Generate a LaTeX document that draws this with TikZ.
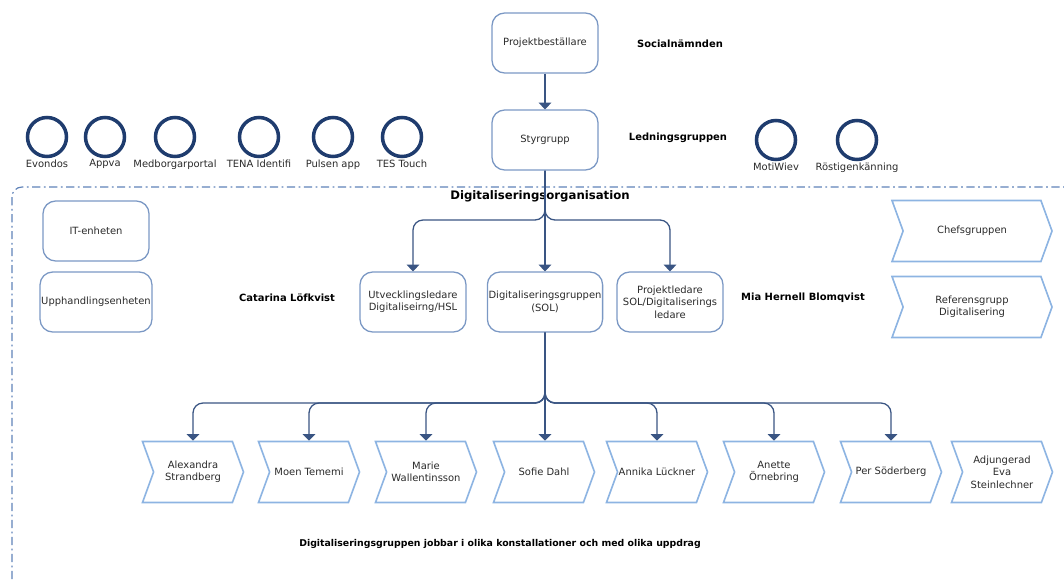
\documentclass[tikz,border=0pt]{standalone}
\usepackage{fontspec}
\setmainfont{DejaVu Sans}
\usepackage{tikz}
\usetikzlibrary{shapes.symbols, arrows.meta, positioning}
\definecolor{boxline}{HTML}{7B98C4}
\definecolor{chevline}{HTML}{8DB4E2}
\definecolor{appline}{HTML}{1F3C6E}
\definecolor{arrowline}{HTML}{3A5583}
\definecolor{frameline}{HTML}{5F82B8}
\definecolor{txt}{HTML}{2A2A2A}

\begin{document}
\begin{tikzpicture}[x=0.03cm, y=-0.03cm,
    box/.style={draw=boxline, line width=1.1pt, rectangle, rounded corners=0.38cm, minimum width=3.18cm, minimum height=1.8cm, align=center, text=txt, font=\fontsize{8.5}{10.5}\selectfont, inner sep=1pt},
    chevron/.style={draw=chevline, line width=1.4pt, signal, signal from=west, signal to=east, signal pointer angle=140, minimum width=3.03cm, minimum height=1.83cm, align=center, text=txt, font=\fontsize{8.5}{10.5}\selectfont, inner sep=1pt},
    app/.style={circle, draw=appline, line width=3pt, minimum size=1.17cm, inner sep=0pt},
    applabel/.style={font=\fontsize{8.5}{10}\selectfont, text=txt, inner sep=1pt},
    person/.style={font=\bfseries\fontsize{8.5}{10}\selectfont},
    arrow/.style={draw=arrowline, line width=1.1pt, -{Triangle[width=0.38cm,length=0.2cm]}, rounded corners=0.3cm},
    frame/.style={draw=frameline, line width=1pt, dash pattern=on 7pt off 3pt on 1.5pt off 3pt, rounded corners=0.3cm}
]
\useasboundingbox (0,0) rectangle (1064,579);

% top of the organisation
\node[box] (pbest) at (545,43) {Projektbeställare};
\node[box] (styr) at (545,140) {Styrgrupp};
\node[person] (socn) at (680,44) {Socialnämnden};
\node[person] (ledn) at (678,138) {Ledningsgruppen};

% systems
\foreach \x/\n/\t in {47/evondos/Evondos, 105/appva/Appva, 175/medb/Medborgarportal, 259/tena/TENA Identifi, 333/pulsen/Pulsen app, 402/tes/TES Touch}
    \node[app, label={[applabel]below:\t}] (\n) at (\x,137) {};
\foreach \x/\n/\t in {776/motiwiev/MotiWiev, 857/rost/Röstigenkänning}
    \node[app, label={[applabel]below:\t}] (\n) at (\x,140) {};

% frame
\coordinate (fbl) at (12,579);
\coordinate (ftr) at (1064,187);
\draw[frame] (fbl) |- (ftr);
\node[font=\bfseries\fontsize{10}{12}\selectfont] (orgtitle) at (540,196) {Digitaliseringsorganisation};

\node[box] (itenh) at (96,231) {IT-enheten};
\node[box] (upph) at (96,302) {Upphandlingsenheten};
\node[box] (utv) at (413,302) {Utvecklingsledare\\Digitaliseirng/HSL};
\node[box] (dgrp) at (545,302) {Digitaliseringsgruppen\\(SOL)};
\node[box] (projl) at (670,302) {Projektledare\\SOL/Digitaliserings\\ledare};
\node[person] (catarina) at (287,298) {Catarina Löfkvist};
\node[person] (mia) at (803,298) {Mia Hernell Blomqvist};
\node[chevron, minimum width=4.8cm] (chefs) at (972,231) {Chefsgruppen};
\node[chevron, minimum width=4.8cm] (refgr) at (972,307) {Referensgrupp\\Digitalisering};

% the group
\foreach \x/\n/\t in {193/alexandra/{Alexandra\\Strandberg}, 309/moen/{Moen Tememi}, 426/marie/{Marie\\Wallentinsson}, 544/sofie/{Sofie Dahl}, 657/annika/{Annika Lückner}, 774/anette/{Anette\\Örnebring}, 891/per/{Per Söderberg}, 1002/adj/{Adjungerad\\Eva\\Steinlechner}}
    \node[chevron] (\n) at (\x,472) {\t};

\node[font=\bfseries\fontsize{8}{10}\selectfont] (note) at (500,544) {Digitaliseringsgruppen jobbar i olika konstallationer och med olika uppdrag};

% connectors
\coordinate (bus1) at (545,220);
\coordinate (bus2) at (545,403);
\draw[arrow] (pbest) -- (styr);
\draw[arrow] (styr.south) -- (dgrp.north);
\draw[arrow] (styr.south) |- (bus1 -| utv.north) -- (utv.north);
\draw[arrow] (styr.south) |- (bus1 -| projl.north) -- (projl.north);
\draw[arrow] (dgrp.south) -- (dgrp.south |- sofie.north);
\foreach \n in {alexandra,moen,marie,annika,anette,per}
    \draw[arrow] (dgrp.south) |- (bus2 -| \n.north) -- (\n.north);

\end{tikzpicture}
\end{document}
